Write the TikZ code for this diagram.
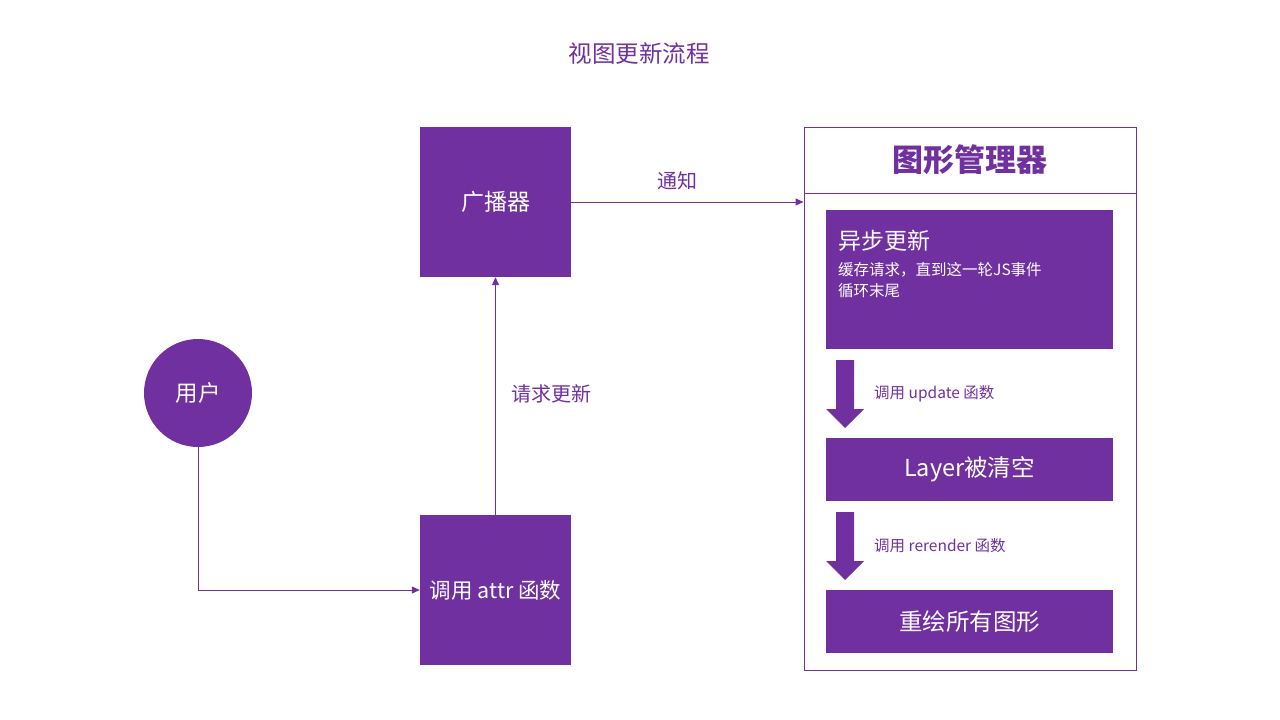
\documentclass[tikz,border=0pt]{standalone}
\usepackage{fontspec}
\setmainfont{Noto Sans CJK SC}
\usetikzlibrary{arrows.meta}
\definecolor{vp}{HTML}{7030A0}
\begin{document}
\begin{tikzpicture}[x=1pt,y=-1pt,
  sq/.style={fill=vp,text=white,minimum width=151pt,minimum height=150pt,inner sep=0pt,font=\fontsize{23}{27}\selectfont},
  bar/.style={fill=vp,text=white,minimum width=287pt,minimum height=63pt,inner sep=0pt,font=\fontsize{23.5}{28}\selectfont},
  link/.style={draw=vp,line width=1pt,-{Triangle[length=8pt,width=7pt]}},
  lbl/.style={text=vp,inner sep=0pt,font=\fontsize{20}{24}\selectfont},
  small/.style={text=vp,inner sep=0pt,font=\fontsize{15.5}{19}\selectfont},
  blockarrow/.style={fill=vp}]
\path[use as bounding box] (0,0) rectangle (1280,720);

% title
\node[lbl,font=\fontsize{23.5}{28}\selectfont] (title) at (639,54) {视图更新流程};

% left-hand flow
\node[sq] (bc) at (495.5,202) {广播器};
\node[sq,font=\fontsize{21.5}{26}\selectfont] (attr) at (495.5,590) {调用 attr 函数};
\node[circle,fill=vp,text=white,minimum size=108pt,inner sep=0pt,font=\fontsize{22.5}{26}\selectfont] (user) at (198,393) {用户};

% graphics manager panel
\node[draw=vp,line width=1pt,minimum width=332pt,minimum height=543pt,inner sep=0pt] (mgr) at (970,398.5) {};
\node[draw=vp,line width=1pt,minimum width=332pt,minimum height=66pt,inner sep=0pt,anchor=north,
      text=vp,font=\fontsize{31}{36}\selectfont\bfseries] (hdr) at (mgr.north) {图形管理器};

\node[fill=vp,minimum width=287pt,minimum height=139pt,inner sep=0pt] (async) at (969.5,279.5) {};
\node[anchor=west,text=white,inner sep=0pt,font=\fontsize{23}{28}\selectfont] (asynct) at (838,241) {异步更新};
\node[anchor=north west,text=white,inner sep=0pt,align=left,font=\fontsize{15.5}{21}\selectfont] (asyncd) at (838,262)
  {缓存请求，直到这一轮JS事件\\循环末尾};

\node[bar] (layer) at (969.5,469.5) {Layer被清空};
\node[bar] (redraw) at (969.5,621.5) {重绘所有图形};

% block arrows between the stages
\fill[blockarrow] (836,360) -- (854,360) -- (854,409) -- (864,409) -- (845,428) -- (826,409) -- (836,409) -- cycle;
\fill[blockarrow] (836,512) -- (854,512) -- (854,561) -- (864,561) -- (845,580) -- (826,561) -- (836,561) -- cycle;
\node[small,anchor=west] (upd) at (874,394) {调用 update 函数};
\node[small,anchor=west] (rer) at (874,546) {调用 rerender 函数};

% connectors
\draw[link] (user.south) |- (attr.west);
\draw[link] (attr.north) -- (bc.south);
\node[lbl,anchor=west] (req) at (511,394) {请求更新};
\draw[link] (bc.east) -- (bc.east -| mgr.west);
\node[lbl] (notify) at (677,181) {通知};
\end{tikzpicture}
\end{document}
